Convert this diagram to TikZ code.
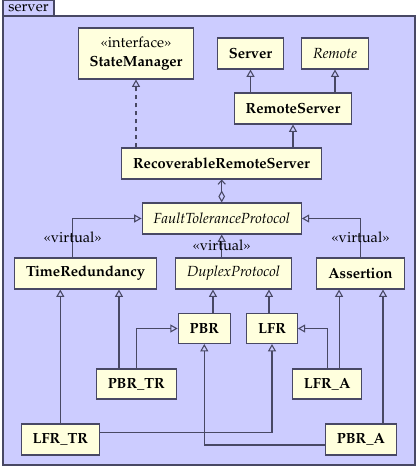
\documentclass[tikz,border=0pt]{standalone}
\usepackage[T1]{fontenc}
\usepackage{mathpazo}
\usetikzlibrary{arrows.meta}
\definecolor{pkgbg}{RGB}{204,204,255}
\definecolor{clsbg}{RGB}{255,255,221}
\definecolor{umlline}{RGB}{72,72,100}
\begin{document}
\begin{tikzpicture}[x=0.75pt, y=-0.75pt,
    font=\fontsize{11}{14.25}\selectfont,
    cls/.style={draw=umlline, fill=clsbg, line width=0.8pt, inner xsep=8.6pt,
      minimum height=23.25pt, font=\fontsize{11}{14.25}\selectfont\bfseries},
    acls/.style={cls, font=\fontsize{11}{14.25}\selectfont\itshape},
    gen/.style={draw=umlline, line width=0.8pt, -{Triangle[open, width=6pt, length=5.5pt]}},
    virt/.style={above=#1, inner sep=0pt}]
    \useasboundingbox (0,0) rectangle (418,467);
    \draw[umlline, fill=pkgbg, line width=0.8pt] (3,0) rectangle (54,16);
    \draw[umlline, fill=pkgbg, line width=0.8pt] (3,16) rectangle (415,465);
    \node (pkg) at (28.5,8.5) {server};
    \node[cls, align=center, minimum height=38.25pt] (sm) at (136,53.5)
      {{\mdseries\guillemotleft interface\guillemotright}\\StateManager};
    \node[cls] (srv) at (250.5,53.5) {Server};
    \node[acls] (rem) at (335,53.5) {Remote};
    \node[cls] (rs) at (293,108.5) {RemoteServer};
    \node[cls] (rrs) at (221.5,163.5) {RecoverableRemoteServer};
    \node[acls] (ftp) at (221.7,218.5) {FaultToleranceProtocol};
    \node[cls] (tr) at (85.5,273.5) {TimeRedundancy};
    \node[acls] (dp) at (233.5,273.5) {DuplexProtocol};
    \node[cls] (as) at (360.5,273.5) {Assertion};
    \node[cls, minimum height=22.5pt] (pbr) at (204.3,328.5) {PBR};
    \node[cls, minimum height=22.5pt] (lfr) at (272,328.5) {LFR};
    \node[cls, minimum height=22.5pt] (pbrtr) at (136.3,384) {PBR\_TR};
    \node[cls, minimum height=22.5pt] (lfra) at (327.2,384) {LFR\_A};
    \node[cls] (lfrtr) at (60.3,439.5) {LFR\_TR};
    \node[cls] (pbra) at (361,439.5) {PBR\_A};
    \draw[gen] (srv.south |- rs.north) -- (srv.south);
    \draw[gen] (rem.south |- rs.north) -- (rem.south);
    \draw[gen] (rs.south |- rrs.north) -- (rs.south);
    \draw[gen, dashed] (sm.south |- rrs.north) -- (sm.south);
    \draw[umlline, line width=0.8pt, {Diamond[open, length=9pt, width=5pt]}-{Straight Barb[length=3pt, width=5.5pt]}]
      (ftp.north) -- (ftp.north |- rrs.south);
    \draw[gen] ([xshift=-9.6pt]tr.north) node[virt=10.5pt] {\guillemotleft virtual\guillemotright} |- (ftp.west);
    \draw[gen] (ftp.south |- dp.north) node[virt=4.7pt] {\guillemotleft virtual\guillemotright} -- (ftp.south);
    \draw[gen] (as.north) node[virt=10.5pt] {\guillemotleft virtual\guillemotright} |- (ftp.east);
    \draw[gen] (lfrtr.north) -- (lfrtr.north |- tr.south);
    \draw[gen] ([xshift=-13pt]pbrtr.north) -- ([xshift=-13pt]pbrtr.north |- tr.south);
    \draw[gen] ([xshift=6.5pt]pbr.north) -- ([xshift=6.5pt]pbr.north |- dp.south);
    \draw[gen] ([xshift=-2.25pt]lfr.north) -- ([xshift=-2.25pt]lfr.north |- dp.south);
    \draw[gen] ([xshift=8.9pt]lfra.north) -- ([xshift=8.9pt]lfra.north |- as.south);
    \draw[gen] ([xshift=16.5pt]pbra.north) -- ([xshift=16.5pt]pbra.north |- as.south);
    \draw[gen] (pbrtr.north) |- (pbr.west);
    \draw[gen] (lfra.north) |- (lfr.east);
    \draw[gen] ([yshift=5.4pt]lfrtr.east) -| (lfr.south);
    \draw[gen] ([yshift=-4.1pt]pbra.west) -| (pbr.south);
\end{tikzpicture}
\end{document}
